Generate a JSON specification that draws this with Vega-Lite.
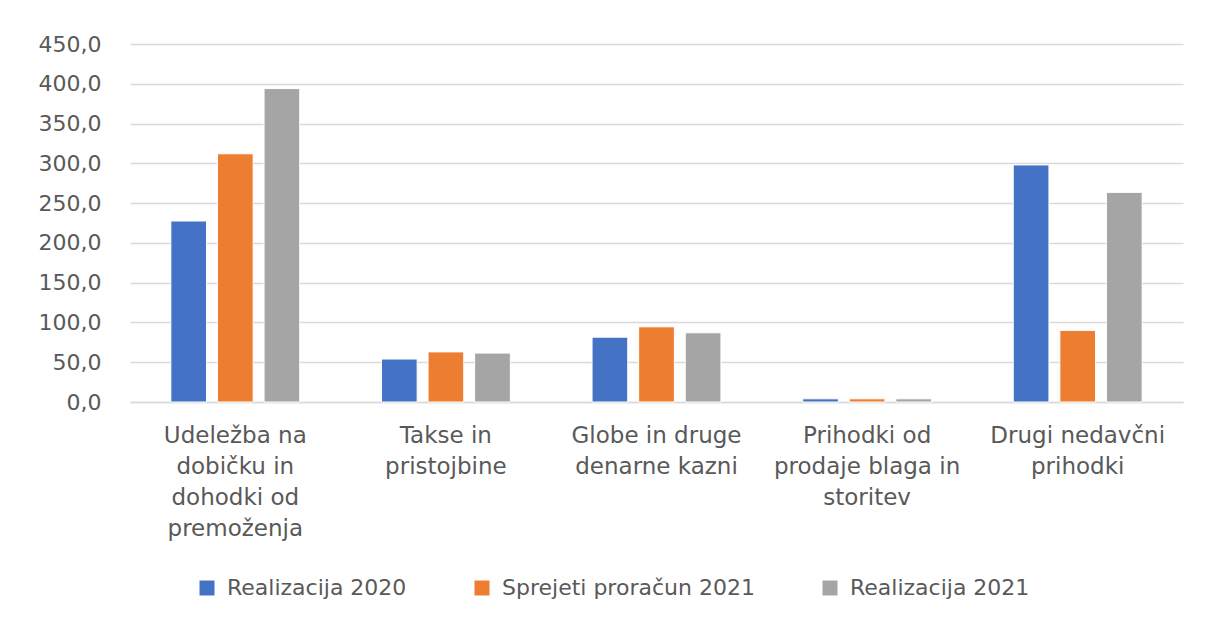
{
  "$schema": "https://vega.github.io/schema/vega-lite/v6.json",
  "width": 1053,
  "height": 358,
  "autosize": {"type": "none"},
  "padding": {"left": 130, "top": 44, "right": 26, "bottom": 220},
  "background": "white",
  "data": {
    "values": [
      {"category": "Udeležba na dobičku in dohodki od premoženja", "series": "Realizacija 2020", "value": 227.5},
      {"category": "Udeležba na dobičku in dohodki od premoženja", "series": "Sprejeti proračun 2021", "value": 312},
      {"category": "Udeležba na dobičku in dohodki od premoženja", "series": "Realizacija 2021", "value": 394},
      {"category": "Takse in pristojbine", "series": "Realizacija 2020", "value": 54},
      {"category": "Takse in pristojbine", "series": "Sprejeti proračun 2021", "value": 63},
      {"category": "Takse in pristojbine", "series": "Realizacija 2021", "value": 61.5},
      {"category": "Globe in druge denarne kazni", "series": "Realizacija 2020", "value": 81.5},
      {"category": "Globe in druge denarne kazni", "series": "Sprejeti proračun 2021", "value": 94.5},
      {"category": "Globe in druge denarne kazni", "series": "Realizacija 2021", "value": 87},
      {"category": "Prihodki od prodaje blaga in storitev", "series": "Realizacija 2020", "value": 4},
      {"category": "Prihodki od prodaje blaga in storitev", "series": "Sprejeti proračun 2021", "value": 4},
      {"category": "Prihodki od prodaje blaga in storitev", "series": "Realizacija 2021", "value": 4},
      {"category": "Drugi nedavčni prihodki", "series": "Realizacija 2020", "value": 298},
      {"category": "Drugi nedavčni prihodki", "series": "Sprejeti proračun 2021", "value": 90},
      {"category": "Drugi nedavčni prihodki", "series": "Realizacija 2021", "value": 263.5}
    ]
  },
  "mark": {"type": "bar", "stroke": "white", "strokeWidth": 1},
  "encoding": {
    "x": {
      "field": "category",
      "type": "nominal",
      "sort": null,
      "scale": {"paddingInner": 0.388, "paddingOuter": 0.194},
      "axis": {
        "title": null,
        "labelAngle": 0,
        "ticks": false,
        "grid": false,
        "domain": true,
        "domainColor": "#d9d9d9",
        "domainWidth": 1.5,
        "labelPadding": 22,
        "labelFont": "DejaVu Sans",
        "labelFontSize": 23,
        "labelColor": "#595959",
        "labelLineHeight": 31,
        "labelLimit": 300,
        "labelExpr": "datum.value == 'Udeležba na dobičku in dohodki od premoženja' ? ['Udeležba na', 'dobičku in', 'dohodki od', 'premoženja'] : datum.value == 'Takse in pristojbine' ? ['Takse in', 'pristojbine'] : datum.value == 'Globe in druge denarne kazni' ? ['Globe in druge', 'denarne kazni'] : datum.value == 'Prihodki od prodaje blaga in storitev' ? ['Prihodki od', 'prodaje blaga in', 'storitev'] : ['Drugi nedavčni', 'prihodki']"
      }
    },
    "xOffset": {
      "field": "series",
      "type": "nominal",
      "sort": ["Realizacija 2020", "Sprejeti proračun 2021", "Realizacija 2021"],
      "scale": {"paddingInner": 0.234, "paddingOuter": 0}
    },
    "y": {
      "field": "value",
      "type": "quantitative",
      "scale": {"domain": [0, 450], "nice": false},
      "axis": {
        "title": null,
        "values": [0, 50, 100, 150, 200, 250, 300, 350, 400, 450],
        "grid": true,
        "gridColor": "#d9d9d9",
        "gridWidth": 1.5,
        "domain": false,
        "ticks": false,
        "labelPadding": 29,
        "labelFont": "DejaVu Sans",
        "labelFontSize": 22,
        "labelColor": "#595959",
        "labelExpr": "replace(format(datum.value, '.1f'), '.', ',')"
      }
    },
    "color": {
      "field": "series",
      "type": "nominal",
      "sort": ["Realizacija 2020", "Sprejeti proračun 2021", "Realizacija 2021"],
      "scale": {
        "domain": ["Realizacija 2020", "Sprejeti proračun 2021", "Realizacija 2021"],
        "range": ["#4472C4", "#ED7D31", "#A5A5A5"]
      },
      "legend": {
        "title": null,
        "orient": "none",
        "legendX": 66,
        "legendY": 533,
        "direction": "horizontal",
        "symbolType": "square",
        "symbolSize": 225,
        "symbolStrokeWidth": 0,
        "labelFont": "DejaVu Sans",
        "labelFontSize": 22,
        "labelColor": "#595959",
        "labelOffset": 9,
        "columnPadding": 64,
        "labelLimit": 400
      }
    }
  },
  "config": {"view": {"stroke": null}}
}
